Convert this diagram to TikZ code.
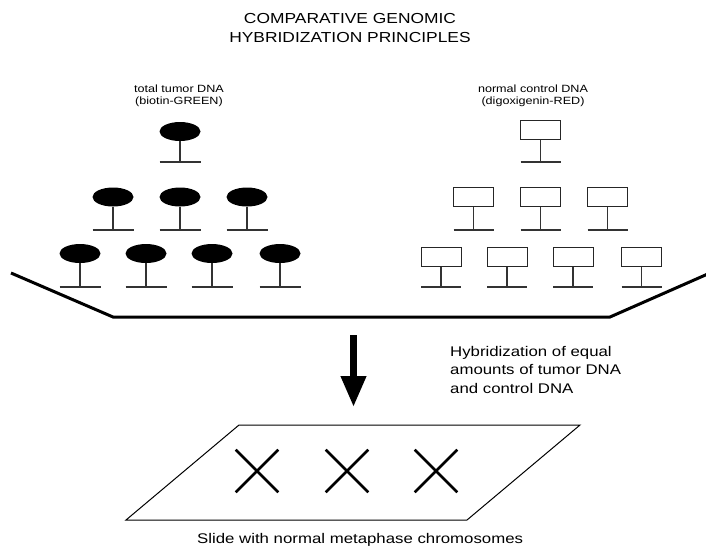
\documentclass[tikz,border=0pt]{standalone}
\usepackage{fontspec}
\setmainfont{Liberation Sans}[FakeStretch=1.2]
\usepackage{tikz}
\usetikzlibrary{arrows.meta,
positioning,
shapes.geometric,
shapes.misc}

\begin{document}
\begin{tikzpicture}[
x=1pt, y=-1pt,
>=Stealth,
tumor/.style={
ellipse,
fill=black,
inner sep=0pt,
minimum width=41pt,
minimum height=19pt
},
control/.style={
rectangle,
draw=black!85,
line width=1pt,
inner sep=0pt,
minimum width=40pt,
minimum height=19pt
},
stem/.style={
draw=black!80,
line width=1.1pt
},
chrom/.style={
cross out,
draw,
line width=2.6pt,
inner sep=0pt,
minimum size=40pt
},
label/.style={
inner sep=0pt,
align=center,
font=\fontsize{10.5}{12}\selectfont
}
]
\useasboundingbox (0,0) rectangle (706,549);

% Title
\node[inner sep=0pt, align=center, anchor=north,
font=\fontsize{14.5}{19}\selectfont] (title) at (350,12.7)
{COMPARATIVE GENOMIC\\HYBRIDIZATION PRINCIPLES};

% Labels of the two probes
\node[label, anchor=north] (tumorlbl) at (179,84.5)
{total tumor DNA\\(biotin-GREEN)};
\node[label, anchor=north] (controllbl) at (533,84.5)
{normal control DNA\\(digoxigenin-RED)};

% Tumor DNA (left)
\foreach \i/\x/\y/\b in {1/180/131.5/162,
2/113/197/230, 3/180/197/230, 4/247/197/230,
5/80/253.5/287, 6/146/253.5/287, 7/212/253.5/287, 8/280/253.5/287} {
\node[tumor] (t\i) at (\x,\y) {};
\coordinate (tb\i) at (\x,\b);
\draw[stem] (t\i.south) -- (tb\i);
\draw[stem] ([xshift=-20.5pt]tb\i) -- ([xshift=20.5pt]tb\i);
}

% Control DNA (right)
\foreach \i/\x/\y/\b in {1/540.5/129.5/162,
2/473.5/197/230, 3/540.5/197/230, 4/607.5/197/230,
5/441/256.5/287, 6/507/256.5/287, 7/573/256.5/287, 8/641.5/256.5/287} {
\node[control] (n\i) at (\x,\y) {};
\coordinate (nb\i) at (\x,\b);
\draw[stem] (n\i.south) -- (nb\i);
\draw[stem] ([xshift=-20pt]nb\i) -- ([xshift=20pt]nb\i);
}

% Hybridization trough
\draw[line width=3pt] (11,273) -- (113,317) -- (610,317) -- (710,273);

% Arrow down to the slide
\coordinate (arrtop) at (353.5,335);
\coordinate (arrtip) at (353.5,407);
\draw[line width=7pt, -{Triangle[width=24pt,length=31pt]}] (arrtop) -- (arrtip);

\node[inner sep=0pt, align=left, anchor=north west,
font=\fontsize{14}{18.5}\selectfont] (hyb) at (450,346)
{Hybridization of equal\\amounts of tumor DNA\\and control DNA};

% Slide
\draw[line width=1pt] (239,425) -- (580,425) -- (467,520) -- (126,520) -- cycle;

\foreach \i/\x in {1/257, 2/347, 3/436}
\node[chrom] (x\i) at (\x,471) {};

\node[inner sep=0pt, anchor=north west,
font=\fontsize{14}{18.5}\selectfont] (slide) at (197,533)
{Slide with normal metaphase chromosomes};

\end{tikzpicture}
\end{document}
